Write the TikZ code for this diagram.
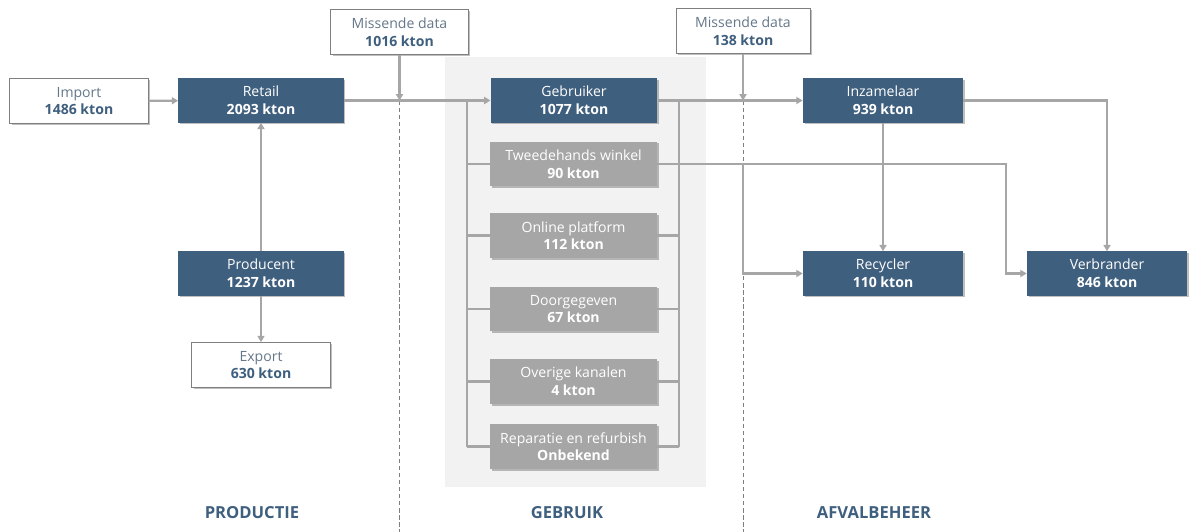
\documentclass[tikz,border=0pt]{standalone}
\usepackage{fontspec}
\setmainfont{Open Sans}
\usepackage{xcolor}
\usepackage{tikz}
\usetikzlibrary{arrows.meta,shadows,calc}
\definecolor{navy}{HTML}{3F5F7E}
\definecolor{flowc}{HTML}{A6A6A6}
\definecolor{panelc}{HTML}{F2F2F2}
\definecolor{edge}{HTML}{7F7F7F}
\definecolor{muted}{HTML}{65788A}
\tikzset{
  shade/.style={drop shadow={shadow xshift=1.2pt, shadow yshift=-1.2pt, fill=black, opacity=0.25}},
  base/.style={align=center, inner sep=0pt, font=\fontsize{10}{12.5}\selectfont, shade},
  box/.style={base, fill=navy, text=white, minimum width=4.13cm, minimum height=1.1cm},
  wbox/.style={base, fill=white, draw=edge, line width=0.7pt, text=muted, minimum width=3.45cm, minimum height=1.12cm},
  gbox/.style={base, fill=flowc, text=white, minimum width=4.18cm, minimum height=1.12cm},
  flow/.style={draw=flowc, line width=1.5pt, -{Triangle[length=4.5pt,width=5pt]}},
  bus/.style={draw=flowc, line width=1.5pt},
  sep/.style={draw=edge, dashed, line width=0.4pt, dash pattern=on 3pt off 2pt},
  phase/.style={text=navy, font=\fontsize{11.8}{13}\selectfont\bfseries},
}

\begin{document}
\begin{tikzpicture}[x=0.025cm, y=-0.025cm]
  \useasboundingbox (0,0) rectangle (1202,532);
  \fill[panelc] (445,57) rectangle (706,487); % gebruik

  % productie
  \node[wbox] (imp) at (79,101) {Import\\\textbf{\color{navy}1486 kton}};
  \node[box] (retail) at (261,100.5) {Retail\\\textbf{2093 kton}};
  \node[box] (prod) at (261,273.5) {Producent\\\textbf{1237 kton}};
  \node[wbox] (exp) at (261,365) {Export\\\textbf{\color{navy}630 kton}};
  \node[wbox, minimum width=3.43cm] (mis1) at (399.5,32) {Missende data\\\textbf{\color{navy}1016 kton}};

  % gebruik
  \node[box, minimum width=4.16cm] (gebr) at (574,100.5) {Gebruiker\\\textbf{1077 kton}};
  \node[gbox] (tweede) at (573.5,164) {Tweedehands winkel\\\textbf{90 kton}};
  \node[gbox] (online) at (573.5,235.5) {Online platform\\\textbf{112 kton}};
  \node[gbox] (door) at (573.5,309) {Doorgegeven\\\textbf{67 kton}};
  \node[gbox] (overig) at (573.5,381.5) {Overige kanalen\\\textbf{4 kton}};
  \node[gbox] (repar) at (573.5,446.5) {Reparatie en refurbish\\\textbf{Onbekend}};

  % afvalbeheer
  \node[wbox, minimum width=3.35cm] (mis2) at (743,31) {Missende data\\\textbf{\color{navy}138 kton}};
  \node[box, minimum width=4cm] (inz) at (883,100.5) {Inzamelaar\\\textbf{939 kton}};
  \node[box, minimum width=4cm] (recy) at (883,273.5) {Recycler\\\textbf{110 kton}};
  \node[box, minimum width=4cm] (verb) at (1107,273.5) {Verbrander\\\textbf{846 kton}};

  \node[phase] (p1) at (252,513) {PRODUCTIE};
  \node[phase] (p2) at (567,513) {GEBRUIK};
  \node[phase] (p3) at (874,513) {AFVALBEHEER};

  % separators
  \coordinate (j1) at (mis1 |- retail);
  \coordinate (j2) at (mis2 |- gebr);
  \coordinate (s1) at (j1 |- 0,532);
  \coordinate (s2) at (j2 |- 0,532);
  \draw[sep] (j1) -- (s1);
  \draw[sep] (j2) -- (s2);

  % flows
  \draw[flow] (imp) -- (retail);
  \draw[flow] (prod) -- (retail);
  \draw[flow] (prod) -- (exp);
  \draw[flow] (retail) -- (gebr);
  \draw[flow] (mis1) -- (j1);
  \draw[flow] (gebr) -- (inz);
  \draw[flow] (mis2) -- (j2);
  \draw[flow] (inz) -- (recy);
  \draw[flow] (inz.east) -| (verb.north);

  % bus links en rechts
  \coordinate (lt) at (467,100.5);
  \coordinate (lb) at (lt |- repar);
  \coordinate (rt) at (679,100.5);
  \coordinate (rb) at (rt |- repar);
  \draw[bus] (lt) -- (lb);
  \draw[bus] (rt) -- (rb);
  \foreach \n in {tweede,online,door,overig,repar}
    \draw[bus] (lt |- \n) -- (\n.west);
  \foreach \n in {online,door,overig,repar}
    \draw[bus] (\n.east) -- (rt |- \n);

  \coordinate (k1) at (1006,164);
  \coordinate (k2) at (j2 |- tweede);
  \draw[flow] (tweede.east) -- (k1) |- (verb.west);
  \draw[flow] (k2) |- (recy.west);
\end{tikzpicture}
\end{document}
